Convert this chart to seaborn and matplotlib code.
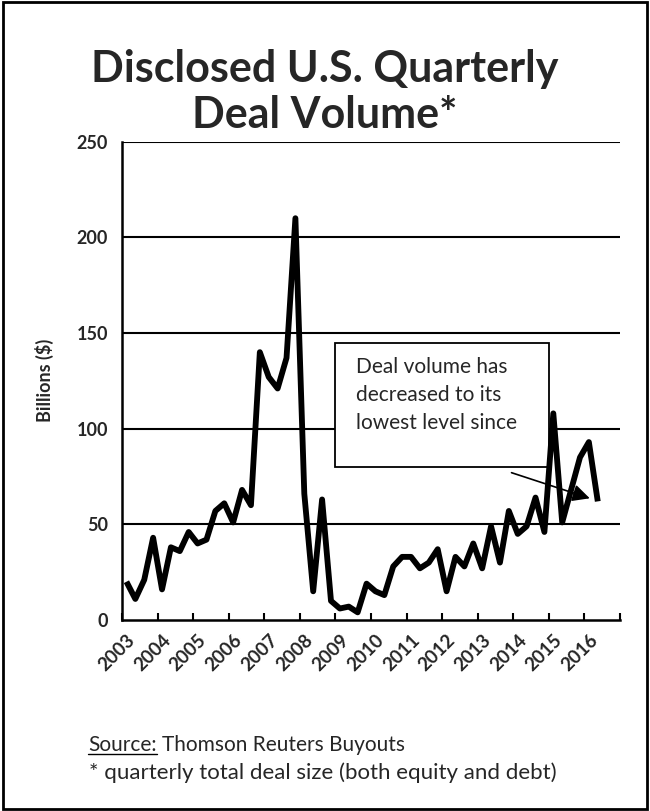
import numpy as np
import pandas as pd
import matplotlib
matplotlib.use("Agg")
import matplotlib.pyplot as plt
import seaborn as sns
from matplotlib.patches import Rectangle
from matplotlib.lines import Line2D

# ---- data (2003Q1 .. 2016Q2, billions $) ----
years = [str(y) for y in range(2003, 2017)]
volume = [20, 11, 21, 43, 16, 38, 36, 46, 40, 42, 57, 61, 51, 68, 60,
          140, 127, 121, 137, 210, 66, 15, 63, 10, 6, 7, 4,
          19, 15, 13, 28, 33, 33, 27, 30, 37, 15, 33, 28, 40, 27,
          49, 30, 57, 45, 49, 64, 46, 108, 51, 68, 85, 93, 62]
n_categories = 55          # axis has room for one more quarter
y_ticks = [0, 50, 100, 150, 200, 250]

title = "Disclosed U.S. Quarterly\nDeal Volume*"
ylabel = "Billions ($)"
note_lines = ["Deal volume has", "decreased to its", "lowest level since"]
source_lbl = "Source:"
source_txt = "Thomson Reuters Buyouts"
footnote = "* quarterly total deal size (both equity and debt)"

df = pd.DataFrame({"q": np.arange(len(volume)), "v": volume})

sns.set_theme(style="white")
plt.rcParams["font.family"] = ["Lato", "DejaVu Sans"]

fig = plt.figure(figsize=(6.5, 8.11), dpi=100)
W, H = 650, 811
ax = fig.add_axes([122 / W, 1 - 620 / H, (620 - 122) / W, (620 - 141.7) / H])

sns.lineplot(data=df, x="q", y="v", ax=ax, color="black", linewidth=4.2,
             zorder=5, solid_joinstyle="round", solid_capstyle="butt")

ax.set_xlim(-0.5, n_categories - 0.5)
ax.set_ylim(0, 250)
ax.set_yticks(y_ticks)
ax.set_yticklabels([str(t) for t in y_ticks], fontsize=13, fontweight="bold")
for t in y_ticks[1:]:
    ax.axhline(t, color="black", lw=1.5, zorder=1)

label_pos = np.arange(0, 4 * len(years), 4)
ax.set_xticks(label_pos)
ax.set_xticklabels(years, rotation=45, ha="right", va="top",
                   rotation_mode="anchor", fontsize=13.5, fontweight="bold")
ax.set_xticks(np.arange(-0.5, 4 * len(years), 4), minor=True)
ax.tick_params(axis="x", which="major", length=0, pad=8)
ax.tick_params(axis="x", which="minor", length=5, width=1.5, direction="in",
               color="black", bottom=True)
ax.tick_params(axis="y", length=0, pad=10)

for s in ["top", "right"]:
    ax.spines[s].set_visible(False)
for s in ["left", "bottom"]:
    ax.spines[s].set_color("black")
    ax.spines[s].set_linewidth(1.8)
ax.set_xlabel("")
ax.set_ylabel(ylabel, fontsize=13, fontweight="bold", labelpad=16)

# annotation box
ax.add_patch(Rectangle((23.5, 79.8), 24.0, 65.2, facecolor="white",
                       edgecolor="black", lw=1.3, zorder=3))
for yy, line in zip([132.5, 117.7, 103.0], note_lines):
    ax.text(25.8, yy, line, fontsize=15, va="center", ha="left", zorder=4)
ax.annotate("", xy=(52.1, 63.6), xytext=(43.3, 77),
            arrowprops=dict(arrowstyle="-|>", color="black", lw=1.2,
                            mutation_scale=26, shrinkA=0, shrinkB=0),
            zorder=7)

# title
fig.text(0.5, 1 - 92 / H, title, ha="center", va="center", fontsize=31,
         fontweight="bold", linespacing=1.2)

# source lines
t1 = fig.text(88 / W, 1 - 745 / H, source_lbl, fontsize=15, va="center", ha="left")
fig.canvas.draw()
bb = t1.get_window_extent()
fig.add_artist(Line2D([bb.x0 / W, bb.x1 / W], [(bb.y0 + 1) / H, (bb.y0 + 1) / H],
                      color="black", lw=1.0, transform=fig.transFigure))
fig.text((bb.x1 + 5) / W, 1 - 745 / H, source_txt, fontsize=15, va="center", ha="left")
fig.text(89 / W, 1 - 773 / H, footnote, fontsize=16, va="center", ha="left")

# frame
fig.add_artist(Rectangle((0.004, 0.003), 0.992, 0.994, transform=fig.transFigure,
                         fill=False, edgecolor="black", lw=2))

fig.savefig("out.png", dpi=100, facecolor="white")
